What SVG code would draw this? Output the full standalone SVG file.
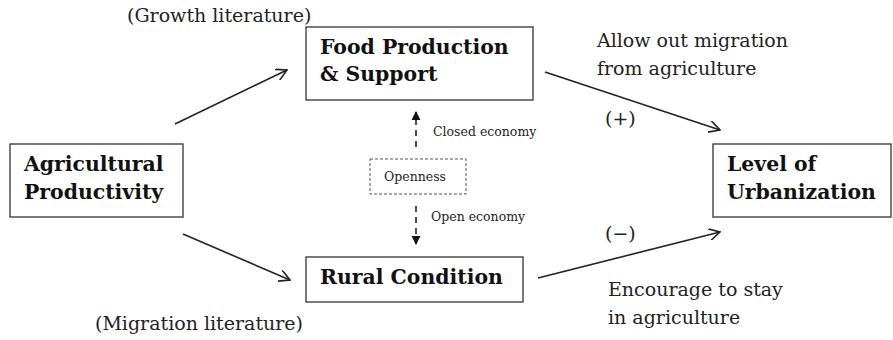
<svg xmlns="http://www.w3.org/2000/svg" width="893" height="340" viewBox="0 0 893 340">
<defs>
<style>
.box{fill:#fff;stroke:#333;stroke-width:1.3}
.dbox{fill:#fff;stroke:#555;stroke-width:1;stroke-dasharray:3 2}
.b{font-family:"DejaVu Serif","Liberation Serif",serif;font-weight:bold;font-size:20.4px;fill:#111}
.r{font-family:"DejaVu Serif","Liberation Serif",serif;font-size:19px;fill:#222}
.s{font-family:"DejaVu Serif","Liberation Serif",serif;font-size:12.5px;fill:#222}
.line{stroke:#222;stroke-width:1.6;fill:none}
.dline{stroke:#222;stroke-width:1.6;fill:none;stroke-dasharray:6 5}
</style>
<marker id="open" viewBox="0 0 12 12" refX="11" refY="6" markerWidth="12" markerHeight="12" markerUnits="userSpaceOnUse" orient="auto">
<path d="M0,0 L11,6 L0,12" fill="none" stroke="#222" stroke-width="1.6"/>
</marker>
<marker id="solid" viewBox="0 0 10 10" refX="9" refY="5" markerWidth="9" markerHeight="10" markerUnits="userSpaceOnUse" orient="auto">
<path d="M0,0 L10,5 L0,10 Z" fill="#111"/>
</marker>
</defs>
<g id="connectors">
<line class="line" x1="175" y1="124" x2="287" y2="70" marker-end="url(#open)"/>
<line class="line" x1="183" y1="234" x2="290" y2="280" marker-end="url(#open)"/>
<line class="line" x1="545" y1="72" x2="720" y2="130" marker-end="url(#open)"/>
<line class="line" x1="538" y1="278" x2="720" y2="232" marker-end="url(#open)"/>
<line class="dline" x1="416" y1="147" x2="416" y2="112" marker-end="url(#solid)"/>
<line class="dline" x1="416" y1="206" x2="416" y2="244" marker-end="url(#solid)"/>
<text class="s" x="433" y="136">Closed economy</text>
<text class="s" x="431" y="221">Open economy</text>
</g>
<g id="agri">
<rect class="box" x="10" y="144" width="173" height="73"/>
<text class="b" x="24" y="171">Agricultural</text>
<text class="b" x="24" y="199">Productivity</text>
</g>
<g id="food">
<rect class="box" x="306" y="27" width="227" height="73"/>
<text class="b" x="320" y="54">Food Production</text>
<text class="b" x="320" y="81">&amp; Support</text>
</g>
<g id="rural">
<rect class="box" x="306" y="257" width="217" height="45"/>
<text class="b" x="320" y="284">Rural Condition</text>
</g>
<g id="urban">
<rect class="box" x="713" y="144" width="178" height="73"/>
<text class="b" x="727" y="171">Level of</text>
<text class="b" x="727" y="199">Urbanization</text>
</g>
<g id="openness">
<rect class="dbox" x="370" y="159" width="96" height="35"/>
<text class="s" x="384" y="181">Openness</text>
</g>
<g id="labels">
<text class="r" x="127" y="22">(Growth literature)</text>
<text class="r" x="95" y="330">(Migration literature)</text>
<text class="r" x="597" y="47">Allow out migration</text>
<text class="r" x="597" y="75">from agriculture</text>
<text class="r" x="605" y="125">(+)</text>
<text class="r" x="605" y="240">(−)</text>
<text class="r" x="608" y="296">Encourage to stay</text>
<text class="r" x="608" y="324">in agriculture</text>
</g>
</svg>
